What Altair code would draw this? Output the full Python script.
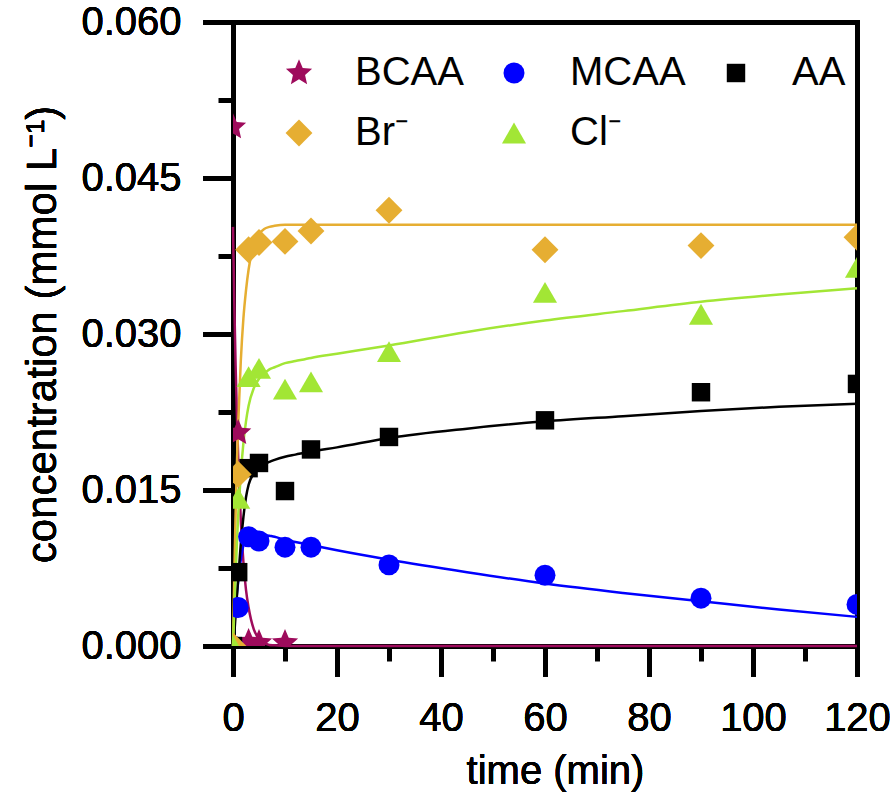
import altair as alt
import pandas as pd

# ---------------- data ----------------
series_names = ["BCAA", "MCAA", "AA", "Br\u207b", "Cl\u207b"]
series_colors = ["#9E0B5C", "#0000FF", "#000000", "#E6AE32", "#A2E635"]

STAR = "M0,-1L0.27,-0.37L0.951,-0.309L0.44,0.143L0.588,0.809L0,0.46L-0.588,0.809L-0.44,0.143L-0.951,-0.309L-0.27,-0.37Z"
series_shapes = [STAR, "circle", "square", "diamond", "triangle-up"]
series_sizes = [760, 440, 340, 720, 580]

# measured points
bcaa_t = [0, 1, 3, 5, 10]
bcaa = [0.0499, 0.0205, 0.0004, 0.0003, 0.0003]

obs_t = [0, 1, 3, 5, 10, 15, 30, 60, 90, 120]
mcaa = [0.0, 0.0037, 0.0105, 0.0101, 0.0095, 0.0095, 0.0078, 0.0068, 0.0046, 0.0040]
aa = [0.0, 0.0071, 0.0171, 0.0176, 0.0149, 0.0189, 0.0201, 0.0217, 0.0244, 0.0252]
br = [0.0, 0.0165, 0.0381, 0.0388, 0.0389, 0.0399, 0.0419, 0.0381, 0.0385, 0.0393]
cl = [0.0, 0.0142, 0.0259, 0.0267, 0.0247, 0.0254, 0.0283, 0.0340, 0.0319, 0.0364]

# fitted curves
fit_t = [0, 0.25, 0.5, 0.75, 1, 1.5, 2, 2.5, 3, 4, 5, 6, 7, 8, 10, 12, 15, 20, 30, 45, 60, 75, 90, 105, 120]
bcaa_fit = [0.0403, 0.0330, 0.0270, 0.0221, 0.0181, 0.0121, 0.0081, 0.0054, 0.0037, 0.0016, 0.0007,
            0.0003, 0.0001, 0.00007, 0.0, 0.0, 0.0, 0.0, 0.0, 0.0, 0.0, 0.0, 0.0, 0.0, 0.0]
mcaa_fit = [0.0, 0.0019, 0.0035, 0.0050, 0.0062, 0.0083, 0.0097, 0.0105, 0.0110, 0.0111, 0.0109,
            0.0107, 0.0106, 0.0105, 0.0102, 0.0100, 0.0097, 0.0092, 0.0083, 0.0071, 0.0060, 0.0051,
            0.0043, 0.0035, 0.0028]
aa_fit = [0.0, 0.0012, 0.0030, 0.0048, 0.0065, 0.0098, 0.0124, 0.0143, 0.0155, 0.0166, 0.0172,
          0.0175, 0.0177, 0.0179, 0.0182, 0.0184, 0.0187, 0.0191, 0.0200, 0.0209, 0.0216, 0.0221,
          0.0226, 0.0230, 0.0233]
br_fit = [0.0, 0.0069, 0.0127, 0.0175, 0.0214, 0.0274, 0.0315, 0.0342, 0.0362, 0.0385, 0.0396,
          0.0401, 0.0403, 0.0404, 0.0405, 0.0405, 0.0405, 0.0405, 0.0405, 0.0405, 0.0405, 0.0405,
          0.0405, 0.0405, 0.0405]
cl_fit = [0.0, 0.0035, 0.0068, 0.0099, 0.0125, 0.0165, 0.0195, 0.0216, 0.0231, 0.0248, 0.0257,
          0.0262, 0.0266, 0.0268, 0.0272, 0.0274, 0.0277, 0.0281, 0.0289, 0.0302, 0.0313, 0.0322,
          0.0331, 0.0338, 0.0344]

x_major = [0, 20, 40, 60, 80, 100, 120]
x_minor = [10, 30, 50, 70, 90, 110]
y_major = [0.0, 0.015, 0.030, 0.045, 0.060]
y_minor = [0.0075, 0.0225, 0.0375, 0.0525]

# ---------------- tables ----------------
rows = []
for t, v in zip(bcaa_t, bcaa):
    rows.append({"t": t, "c": v, "series": series_names[0]})
for name, vals in zip(series_names[1:], [mcaa, aa, br, cl]):
    for t, v in zip(obs_t, vals):
        rows.append({"t": t, "c": v, "series": name})
obs_df = pd.DataFrame(rows)

frows = []
for name, vals in zip(series_names, [bcaa_fit, mcaa_fit, aa_fit, br_fit, cl_fit]):
    for t, v in zip(fit_t, vals):
        frows.append({"t": t, "curve": name, "c": v})
fit_df = pd.DataFrame(frows)

FONT = "Liberation Sans"
xscale = alt.Scale(domain=[0, 120], nice=False, zero=False)
yscale = alt.Scale(domain=[0, 0.06], nice=False, zero=False)

x_axis = alt.Axis(values=x_major, title="time (min)", format="d", orient="bottom",
                  tickSize=30, labelPadding=22, titlePadding=13, titleX=322, labelFlush=False)
y_axis = alt.Axis(values=y_major, title="concentration (mmol L\u207b\u00b9)", format=".3f",
                  orient="left", tickSize=30, labelPadding=22, titlePadding=16,
                  labelFlush=False, labelFontSize=40, titleFontSize=42)

legend = alt.Legend(orient="none", legendX=46, legendY=31, columns=3, direction="horizontal",
                    labelFontSize=40, labelOffset=36, gridAlign="none",
                    columnPadding=30, rowPadding=20)

# one fitted-curve layer per series, plain colour (no scale, so no legend interplay)
line_layers = []
for name, col in zip(series_names, series_colors):
    line_layers.append(
        alt.Chart(fit_df).transform_filter(alt.datum.curve == name)
        .mark_line(strokeWidth=2.5, clip=False, interpolate="monotone", color=col)
        .encode(
            x=alt.X("t:Q", scale=xscale, axis=x_axis),
            y=alt.Y("c:Q", scale=yscale, axis=y_axis),
        )
    )

points = alt.Chart(obs_df).mark_point(filled=True, opacity=1, strokeWidth=0, clip=True).encode(
    x=alt.X("t:Q", scale=xscale, axis=x_axis),
    y=alt.Y("c:Q", scale=yscale, axis=y_axis),
    color=alt.Color("series:N", scale=alt.Scale(domain=series_names, range=series_colors),
                    legend=legend),
    shape=alt.Shape("series:N", scale=alt.Scale(domain=series_names, range=series_shapes),
                    legend=legend),
    size=alt.Size("series:N", scale=alt.Scale(type="ordinal", domain=series_names, range=series_sizes),
                  legend=legend),
)

minor = alt.Chart(obs_df).mark_point(opacity=0).encode(
    x=alt.X("t:Q", scale=xscale,
            axis=alt.Axis(values=x_minor, labels=False, domain=False, tickSize=15,
                          title=None, orient="bottom")),
    y=alt.Y("c:Q", scale=yscale,
            axis=alt.Axis(values=y_minor, labels=False, domain=False, tickSize=15,
                          title=None, orient="left")),
)

frame = alt.Chart(obs_df).mark_point(opacity=0).encode(
    x=alt.X("t:Q", scale=xscale,
            axis=alt.Axis(labels=False, ticks=False, title=None, orient="top")),
    y=alt.Y("c:Q", scale=yscale,
            axis=alt.Axis(labels=False, ticks=False, title=None, orient="right")),
)

chart = alt.layer(minor, frame, *line_layers, points).resolve_axis(
    x="independent", y="independent"
).properties(
    width=624, height=624,
    autosize=alt.AutoSizeParams(type="none"),
    padding={"left": 233, "top": 22, "right": 38, "bottom": 149},
).configure_axis(
    domainColor="black", domainWidth=5, domainCap="square", tickColor="black", tickWidth=5,
    labelFont=FONT, labelFontSize=40, labelColor="black",
    titleFont=FONT, titleFontSize=40, titleFontWeight="normal", titleColor="black",
    grid=False,
).configure_legend(
    title=None, labelFont=FONT, labelColor="black", symbolStrokeWidth=0, symbolOpacity=1,
    padding=0, gridAlign="none", labelLimit=400,
).configure_view(strokeWidth=0)

chart.save("out.html", embed_options={"renderer": "svg", "actions": False})
